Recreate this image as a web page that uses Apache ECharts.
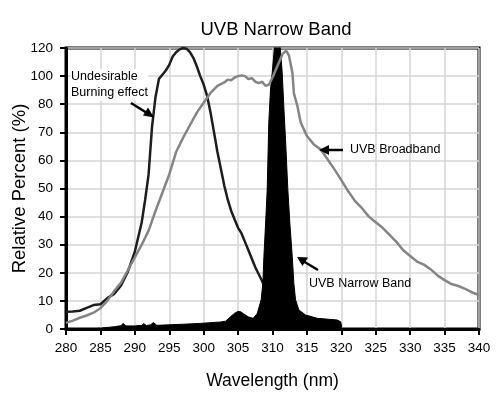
<!DOCTYPE html>
<html>
<head>
<meta charset="utf-8">
<script src="https://cdn.jsdelivr.net/npm/echarts@6/dist/echarts.min.js"></script>
<style>
  html, body { margin: 0; padding: 0; background: #fff; }
  #chart { width: 500px; height: 402px; }
</style>
</head>
<body>
<div id="chart"></div>
<script>
// tick labels of the y axis (equally spaced, but 80 -> 100 -> 120 at the top)
var yTickLabels = ['0', '10', '20', '30', '40', '50', '60', '70', '80', '100', '120'];

// "Undesirable Burning effect" curve
var burnNm = [280, 281, 282, 283, 284, 285, 286, 287, 288, 289, 290, 291, 291.5, 292, 292.5, 293, 293.5, 294, 294.5,
    295, 295.5, 296, 296.5, 297, 297.5, 298, 298.5, 299, 299.5, 300, 300.5, 301, 301.5, 302, 302.5, 303, 303.5,
    304, 304.5, 305, 305.5, 306, 306.5, 307, 307.5, 308, 308.5, 309, 309.5];
var burnPct = [6.1, 6.2, 6.5, 7.5, 8.5, 8.8, 11, 12.5, 15.5, 20.5, 27.5, 38, 46, 55, 72, 85, 98, 101, 104,
    108, 114, 117, 119, 120, 119.5, 117, 113, 107, 100, 94, 86, 77, 70, 63, 57, 51, 46,
    42, 39, 36, 34, 31, 28, 25, 22, 19.5, 17, 14, 11];

// UVB Broadband curve
var broadNm = [280, 281, 282, 283, 284, 285, 286, 287, 288, 289, 290, 291, 292, 293, 294, 295, 296, 297, 298, 299,
    300, 301, 302, 303, 303.5, 304, 304.5, 305, 305.5, 306, 306.5, 307, 307.5, 308, 308.5, 309, 309.5, 310,
    310.7, 311.5, 312, 312.4, 312.9, 313.1, 313.6, 314.1, 315, 316, 317, 318, 319, 320, 321, 322, 323, 324,
    325, 326, 327, 328, 329, 330, 331, 332, 333, 334, 335, 336, 337, 338, 339, 340];
var broadPct = [2.2, 3, 4, 4.8, 5.8, 7.4, 10, 13.5, 16.5, 21, 25.5, 30, 35, 42, 48.5, 55, 63, 68, 72.5, 77,
    81, 88, 93, 95.5, 97.5, 97, 99, 100, 100.5, 100, 98, 98.5, 96, 95, 96, 93, 94, 99,
    107, 116, 118, 114.5, 102, 88, 79.5, 73.5, 68.7, 65.7, 63.9, 60.4, 56.8, 53, 49, 45.5, 43, 40,
    38, 36, 33.5, 31, 28, 26, 24, 22.9, 21.2, 19, 17.4, 16, 15.3, 14.3, 13, 12.1];

// UVB Narrow Band (filled)
var narrowNm = [283.5, 285, 287, 288, 288.3, 288.7, 290, 291, 291.3, 291.7, 292.3, 292.7, 293.2, 295, 297, 299.5,
    302.5, 303.2, 303.9, 304.5, 305, 305.4, 305.8, 306.5, 307.2, 307.8, 308.35, 308.6, 308.75, 309, 309.23,
    309.46, 309.71, 309.96, 310.7, 311.16, 311.41, 311.64, 311.89, 312.23, 312.52, 312.87, 313.1, 313.35,
    313.83, 314.8, 316.5, 319.4, 319.9, 320.05, 320.1];
var narrowPct = [0, 0.3, 0.8, 1.2, 2, 1.1, 1.1, 1.3, 1.9, 1.2, 1.5, 2.3, 1.3, 1.5, 1.7, 2,
    2.5, 2.8, 4.4, 5.6, 6.3, 6.1, 5.4, 4.3, 3.8, 5.6, 10.4, 16.3, 25.8, 37.7, 49.6,
    73.5, 90.7, 102.6, 144, 118, 102.6, 79.4, 67.5, 49.6, 37.7, 25.8, 16.3, 10.4,
    6.8, 5, 3.8, 3.2, 2.6, 0.8, 0];

// the y scale: 10 per step up to 80, then 20 per step
function yScale(v) {
    return v <= 80 ? v / 10 : 8 + (v - 80) / 20;
}

function pairs(xs, ys) {
    return xs.map(function (x, i) { return [x, yScale(ys[i])]; });
}

var font = '"Liberation Sans", Arial, sans-serif';
var chart = echarts.init(document.getElementById('chart'));

chart.setOption({
    animation: false,
    backgroundColor: '#fff',
    title: {
        text: 'UVB Narrow Band',
        left: 271,
        top: 15,
        textAlign: 'center',
        textStyle: {fontFamily: font, fontSize: 18.5, fontWeight: 'normal', color: '#000'}
    },
    grid: {
        left: 66,
        right: 21,
        top: 48,
        bottom: 73,
        containLabel: false,
        outerBoundsMode: 'none',
        show: true,
        borderColor: '#000',
        borderWidth: 3
    },
    xAxis: {
        type: 'value',
        min: 280,
        max: 340,
        interval: 5,
        name: 'Wavelength (nm)',
        nameLocation: 'middle',
        nameGap: 43,
        nameMoveOverlap: false,
        nameTextStyle: {fontFamily: font, fontSize: 17.5, color: '#000'},
        axisLine: {show: true, lineStyle: {color: '#000', width: 3}},
        axisTick: {show: true, length: 6, lineStyle: {color: '#000', width: 2}},
        axisLabel: {fontFamily: font, fontSize: 13.5, color: '#000', margin: 12},
        splitLine: {show: true, lineStyle: {color: '#d4d4d4', width: 1.5}}
    },
    yAxis: {
        type: 'value',
        min: 0,
        max: 10,
        interval: 1,
        name: 'Relative Percent (%)',
        nameLocation: 'middle',
        nameGap: 37,
        nameMoveOverlap: false,
        nameTextStyle: {fontFamily: font, fontSize: 18.5, color: '#000'},
        axisLine: {show: true, lineStyle: {color: '#000', width: 3}},
        axisTick: {show: true, length: 6, lineStyle: {color: '#000', width: 2}},
        axisLabel: {
            fontFamily: font, fontSize: 13.5, color: '#000', margin: 13,
            formatter: function (v) { return yTickLabels[Math.round(v)]; }
        },
        splitLine: {show: true, lineStyle: {color: '#d4d4d4', width: 1.5}}
    },
    series: [
        {
            name: 'UVB Narrow Band',
            type: 'line',
            data: pairs(narrowNm, narrowPct),
            showSymbol: false,
            lineStyle: {color: '#000', width: 1},
            areaStyle: {color: '#000', opacity: 1},
            z: 2
        },
        {
            name: 'UVB Broadband',
            type: 'line',
            data: pairs(broadNm, broadPct),
            showSymbol: false,
            lineStyle: {color: '#858585', width: 2.5},
            z: 3
        },
        {
            name: 'Undesirable Burning effect',
            type: 'line',
            data: pairs(burnNm, burnPct),
            showSymbol: false,
            lineStyle: {color: '#1e1e1e', width: 2.5},
            z: 1
        }
    ],
    graphic: [
        {type: 'text', left: 71, top: 69, z: 50, style: {text: 'Undesirable\nBurning effect', font: '12.5px ' + font, fill: '#000', lineHeight: 16, backgroundColor: '#fff'}},
        {type: 'line', z: 60, shape: {x1: 131, y1: 103, x2: 147, y2: 113}, style: {stroke: '#000', lineWidth: 2.5}},
        {type: 'polygon', z: 60, shape: {points: [[154, 117.5], [143, 115.5], [148, 107.5]]}, style: {fill: '#000'}},

        {type: 'text', left: 350, top: 143, z: 50, style: {text: 'UVB Broadband', font: '12.5px ' + font, fill: '#000'}},
        {type: 'line', z: 60, shape: {x1: 343, y1: 150, x2: 326, y2: 150}, style: {stroke: '#000', lineWidth: 2.5}},
        {type: 'polygon', z: 60, shape: {points: [[319, 150], [329, 145], [329, 155]]}, style: {fill: '#000'}},

        {type: 'text', left: 309, top: 277, z: 50, style: {text: 'UVB Narrow Band', font: '12.5px ' + font, fill: '#000'}},
        {type: 'line', z: 60, shape: {x1: 318, y1: 270, x2: 303, y2: 261}, style: {stroke: '#000', lineWidth: 2.5}},
        {type: 'polygon', z: 60, shape: {points: [[297, 257], [308, 257.5], [302.5, 266]]}, style: {fill: '#000'}}
    ]
});

window.onresize = function () {
    chart.resize();
};
</script>
</body>
</html>
